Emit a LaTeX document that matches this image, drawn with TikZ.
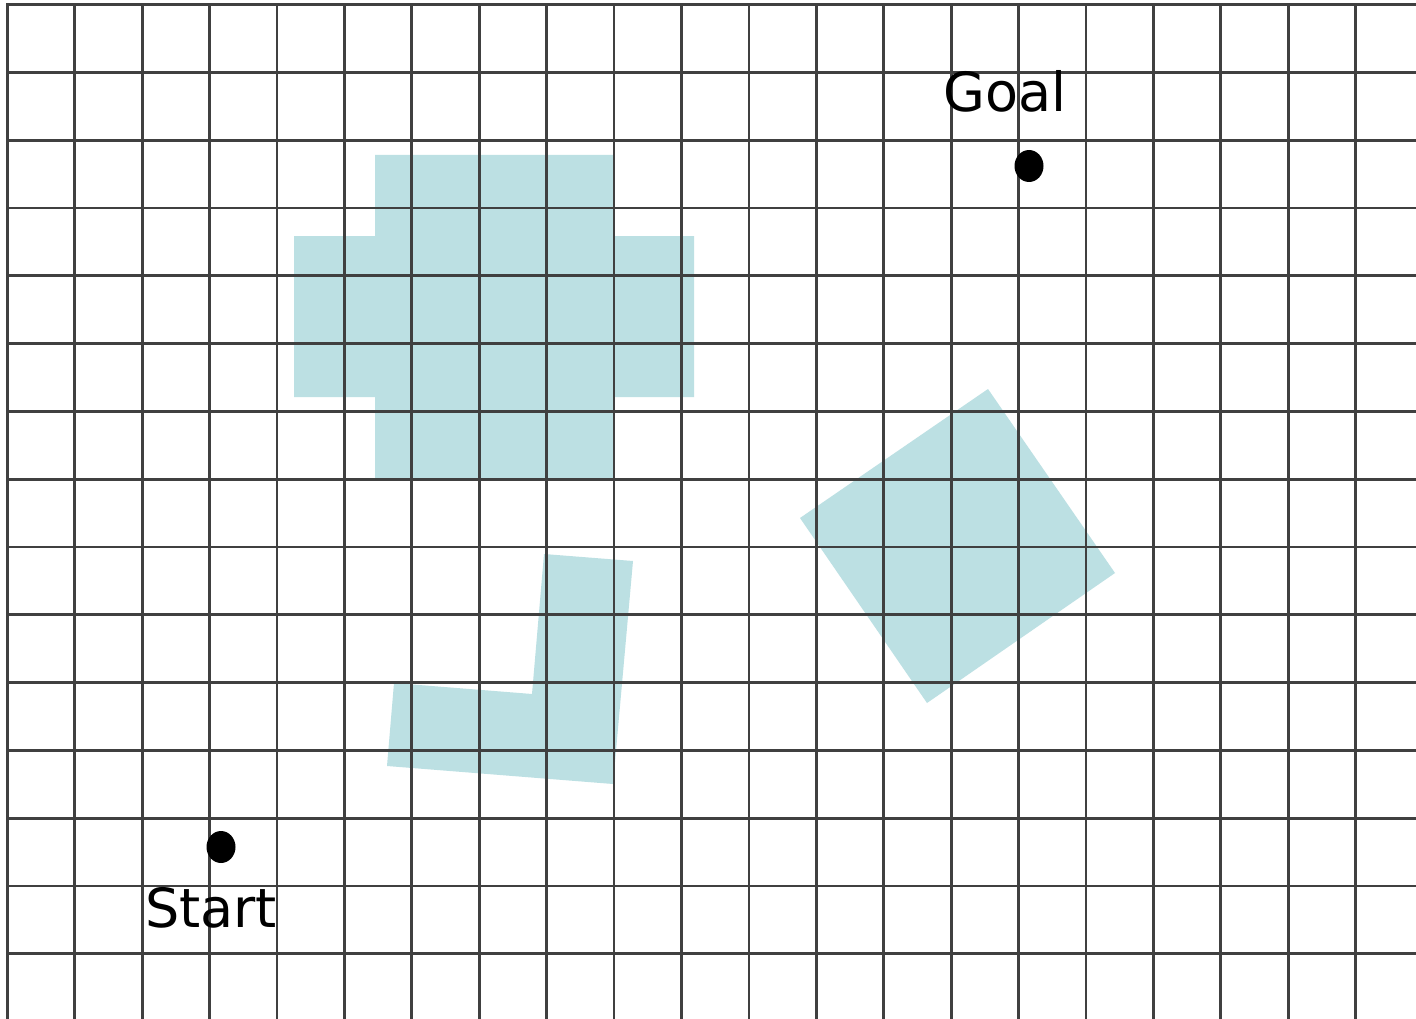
\documentclass[tikz,border=0pt]{standalone}
\usepackage{fontspec}
\setmainfont{DejaVu Sans}
\usepackage{tikz}
\usetikzlibrary{positioning,shapes.geometric}
\definecolor{obsTeal}{HTML}{BCE0E3}
\definecolor{gridInk}{HTML}{404040}

\begin{document}
\begin{tikzpicture}[
  x=1pt, y=-1pt,
  obst/.style={fill=obsTeal, draw=none},
  gridline/.style={draw=gridInk, line width=2.8pt, line cap=rect},
  dot/.style={ellipse, fill=black, inner sep=0pt, minimum width=29pt, minimum height=32pt},
  lbl/.style={inner sep=0pt, font=\fontsize{54}{60}\selectfont}
]
  \useasboundingbox[fill=white] (0,0) rectangle (1416,1019);
  % obstacles
  \fill[obst] (375,155) -- (614,155) -- (614,236) -- (694,236) -- (694,397) -- (614,397)
    -- (614,478) -- (375,478) -- (375,397) -- (294,397) -- (294,236) -- (375,236) -- cycle;
  \fill[obst] (544,554) -- (633,561) -- (613,784) -- (387,766) -- (394,683) -- (532,694) -- cycle;
  \fill[obst] (988,389) -- (1115,573) -- (927,703) -- (800,518) -- cycle;
  % grid
  \foreach \i in {0,...,20}
    \draw[gridline] (7.3+67.42*\i,4.7) -- (7.3+67.42*\i,1025);
  \foreach \j in {0,...,14}
    \draw[gridline] (7.3,4.7+67.79*\j) -- (1425,4.7+67.79*\j);
  % start and goal
  \node[dot] (gdot) at (1029,166) {};
  \node[lbl, above=37pt of gdot, xshift=-24pt] (goal) {Goal};
  \node[dot] (sdot) at (221,847) {};
  \node[lbl, below=24pt of sdot, xshift=-10pt] (start) {Start};
\end{tikzpicture}
\end{document}
